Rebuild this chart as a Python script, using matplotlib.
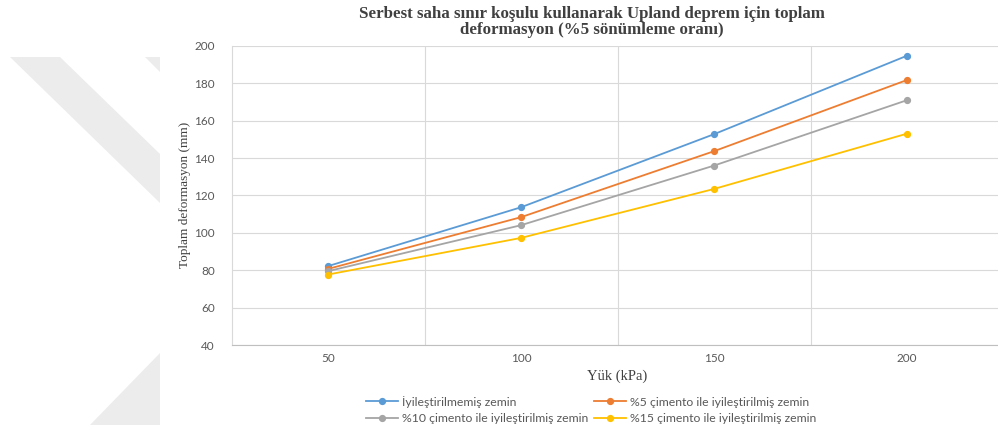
import matplotlib
matplotlib.use("Agg")
import matplotlib.pyplot as plt
from matplotlib.patches import Polygon

# ---- data ----
categories = ["50", "100", "150", "200"]
series_names = [
    "İyileştirilmemiş zemin",
    "%5 çimento ile iyileştirilmiş zemin",
    "%10 çimento ile iyileştirilmiş zemin",
    "%15 çimento ile iyileştirilmiş zemin",
]
untreated = [82.2, 113.7, 152.8, 194.8]
cement5 = [80.7, 108.4, 143.7, 181.8]
cement10 = [79.5, 104.1, 136.0, 171.0]
cement15 = [77.7, 97.3, 123.5, 153.1]
yticks = [40, 60, 80, 100, 120, 140, 160, 180, 200]

colors = ["#5B9BD5", "#ED7D31", "#A5A5A5", "#FFC000"]

W, H = 998, 432
fig = plt.figure(figsize=(W / 100, H / 100), dpi=100)
fig.patch.set_facecolor("white")

def px(pts):
    return [(x / W, 1 - y / H) for x, y in pts]

# faint watermark shapes on the page at left
wm = "#ececec"
for poly in ([(10, 57), (60, 57), (160, 154), (160, 203)],
             [(145, 57), (160, 57), (160, 72)],
             [(90, 425), (160, 425), (160, 353)]):
    fig.patches.append(Polygon(px(poly), closed=True, transform=fig.transFigure,
                               facecolor=wm, edgecolor="none", zorder=0))

ax = fig.add_axes([231.5 / W, 87 / H, 772 / W, 299 / H])
ax.set_facecolor("none")

x = list(range(len(categories)))
handles = []
for vals, name, c in zip([untreated, cement5, cement10, cement15], series_names, colors):
    h, = ax.plot(x, vals, color=c, lw=1.3, marker="o", markersize=4.2,
                 markeredgecolor=c, markerfacecolor=c, label=name, zorder=3)
    handles.append(h)

ax.set_xlim(-0.5, len(categories) - 0.5)
ax.set_ylim(40, 200)
ax.set_yticks(yticks)
ax.set_xticks(x)
ax.set_xticklabels(categories)
ax.set_xticks([i + 0.5 for i in x[:-1]], minor=True)

ax.grid(True, which="major", axis="y", color="#d9d9d9", lw=0.8)
ax.grid(True, which="minor", axis="x", color="#d9d9d9", lw=0.8)
ax.set_axisbelow(True)
ax.tick_params(which="both", length=0)
ax.tick_params(axis="y", pad=12, labelsize=8.5, labelcolor="#595959")
ax.tick_params(axis="x", pad=6, labelsize=8.5, labelcolor="#595959")
for lab in ax.get_xticklabels() + ax.get_yticklabels():
    lab.set_fontfamily("Lato")

for s in ["top", "right"]:
    ax.spines[s].set_visible(False)
ax.spines["left"].set_color("#d9d9d9")
ax.spines["bottom"].set_color("#bfbfbf")
ax.spines["left"].set_linewidth(0.8)
ax.spines["bottom"].set_linewidth(0.8)

fig.text(592 / W, 1 - 22 / H,
         "Serbest saha sınır koşulu kullanarak Upland deprem için toplam\ndeformasyon (%5 sönümleme oranı)",
         ha="center", va="center", family="Liberation Serif", fontweight="bold",
         fontsize=12.2, color="#404040", linespacing=0.92)

fig.text(185 / W, 1 - 195 / H, "Toplam deformasyon (mm)", rotation=90,
         ha="center", va="center", family="Liberation Serif", fontsize=9.5, color="#404040")
fig.text(617 / W, 1 - 376 / H, "Yük (kPa)", ha="center", va="center",
         family="Liberation Serif", fontsize=10.5, color="#404040")

order = [0, 2, 1, 3]  # row-wise layout: row1 = series 0,1 ; row2 = series 2,3
leg = fig.legend([handles[i] for i in order], [series_names[i] for i in order],
                 loc="center", bbox_to_anchor=(591 / W, 1 - 410 / H), ncol=2,
                 frameon=False, prop={"family": "Lato", "size": 8.8},
                 handlelength=2.6, handletextpad=0.3, columnspacing=0.5,
                 labelspacing=0.45, borderpad=0)
for t in leg.get_texts():
    t.set_color("#595959")

fig.savefig("out.png", dpi=100, facecolor="white")
